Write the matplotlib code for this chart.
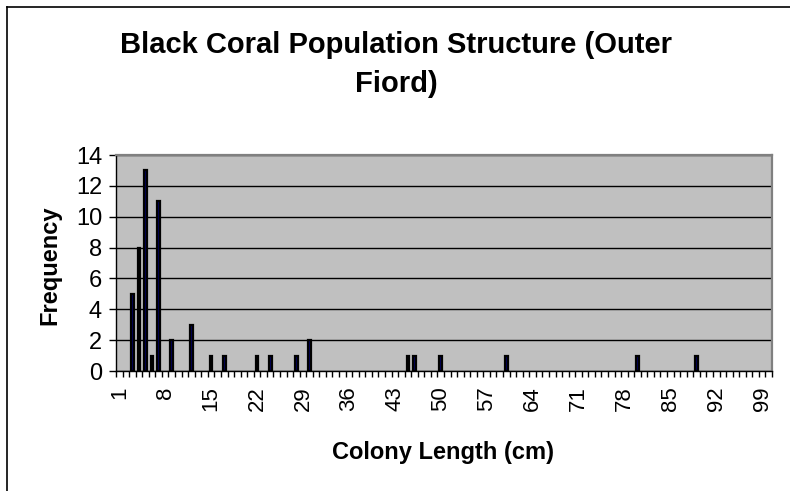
import matplotlib.pyplot as plt
import numpy as np
from matplotlib.lines import Line2D

plt.rcParams['font.family'] = ['Liberation Sans', 'DejaVu Sans']

# colony lengths (cm) with non-zero counts, and their frequencies
lengths = [3, 4, 5, 6, 7, 9, 12, 15, 17, 22, 24, 28, 30, 45, 46, 50, 60, 80, 89]
counts = [5, 8, 13, 1, 11, 2, 3, 1, 1, 1, 1, 1, 2, 1, 1, 1, 1, 1, 1]
categories = np.arange(1, 101)  # category axis 1..100
xlabels = list(range(1, 101, 7))
yticks = list(range(0, 15, 2))

fig = plt.figure(figsize=(7.9, 4.91), dpi=100)
W, H = 790, 491
ax = fig.add_axes([116 / W, (H - 371) / H, 656 / W, 216 / H])
ax.set_facecolor('#c0c0c0')

ax.bar(lengths, counts, width=0.42, color='#000066', edgecolor='black', linewidth=1.6, zorder=3)

ax.set_xlim(categories[0] - 0.5, categories[-1] + 0.5)
ax.set_ylim(0, 14)
ax.set_yticks(yticks)
ax.yaxis.grid(True, color='black', linewidth=1.0, zorder=1)

# labels at category centres, tick marks between categories
ax.set_xticks(xlabels)
ax.set_xticklabels([str(v) for v in xlabels], rotation=90, fontsize=16)
ax.set_xticks(np.append(categories - 0.5, categories[-1] + 0.5), minor=True)
ax.tick_params(axis='x', which='major', length=0, pad=11)
ax.tick_params(axis='x', which='minor', length=4, width=1, color='black', direction='out')
ax.tick_params(axis='y', length=5, width=1, labelsize=17, pad=5)

for s in ['top', 'right']:
    ax.spines[s].set_color('#808080')
    ax.spines[s].set_linewidth(1.6)
for s in ['left', 'bottom']:
    ax.spines[s].set_color('black')
    ax.spines[s].set_linewidth(1.0)

ax.set_ylabel('Frequency', fontsize=17, fontweight='bold', va='center')
ax.yaxis.set_label_coords((50 - 116) / 656, (371 - 265) / 216)
ax.set_xlabel('Colony Length (cm)', fontsize=17, fontweight='bold', va='center')
ax.xaxis.set_label_coords((443 - 116) / 656, (371 - 453) / 216)

fig.text(396 / W, 1 - 64.5 / H, 'Black Coral Population Structure (Outer\nFiord)',
         ha='center', va='center', fontsize=21, fontweight='bold', linespacing=1.53)

# chart frame (left and top edges only visible)
fig.add_artist(Line2D([7 / W, 7 / W], [0, 1 - 7 / H], color='black', linewidth=1.2, transform=fig.transFigure))
fig.add_artist(Line2D([7 / W, 1], [1 - 7 / H, 1 - 7 / H], color='black', linewidth=1.2, transform=fig.transFigure))

fig.savefig('out.png', dpi=100)
